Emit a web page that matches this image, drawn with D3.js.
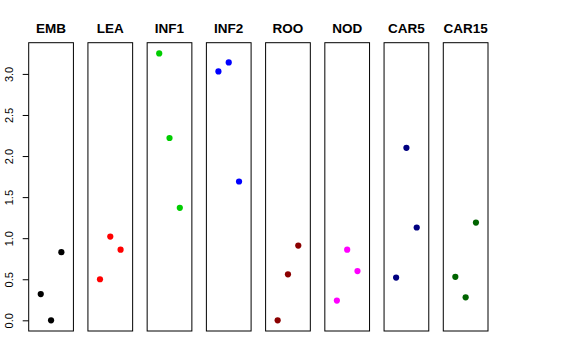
<!DOCTYPE html>
<html>
<head>
<meta charset="utf-8">
<script src="https://cdn.jsdelivr.net/npm/d3@7"></script>
<style>
  body { margin: 0; background: #fff; }
  svg { display: block; font-family: "Liberation Sans", Arial, sans-serif; }
</style>
</head>
<body>
<div id="chart"></div>
<script>
// tissues (one panel each) and their colours
const tissues = ["EMB", "LEA", "INF1", "INF2", "ROO", "NOD", "CAR5", "CAR15"];
const colors = ["#000000", "#FF0000", "#00CD00", "#0000FF", "#8B0000", "#FF00FF", "#000080", "#006400"];

// three replicates per tissue
const rep1 = [0.32, 0.50, 3.25, 3.03, 0.00, 0.24, 0.52, 0.53];
const rep2 = [0.00, 1.02, 2.22, 3.14, 0.56, 0.86, 2.10, 0.28];
const rep3 = [0.83, 0.86, 1.37, 1.69, 0.91, 0.60, 1.13, 1.19];

const yTicks = [0, 0.5, 1, 1.5, 2, 2.5, 3];

const width = 576, height = 360;
const margins = { top: 42.7, bottom: 29, left: 28.7, right: 88 };

const svg = d3.select("#chart").append("svg")
    .attr("width", width)
    .attr("height", height);

const series = [rep1, rep2, rep3];
const allVals = series.flat();
const yMin = d3.min(allVals), yMax = d3.max(allVals);
const pad = (yMax - yMin) * 0.04;

const y = d3.scaleLinear()
    .domain([yMin - pad, yMax + pad])
    .range([height - margins.bottom, margins.top]);

const panel = d3.scaleBand()
    .domain(tissues)
    .range([margins.left, width - margins.right])
    .paddingInner(0.245);

const x = d3.scaleLinear()
    .domain([2 - 2.17, 2 + 2.17])
    .range([0, panel.bandwidth()]);

//PANELS
tissues.forEach((t, i) => {
    const g = svg.append("g")
        .attr("transform", `translate(${panel(t)},0)`);

    g.append("rect")
        .attr("x", 0)
        .attr("y", y.range()[1])
        .attr("width", panel.bandwidth())
        .attr("height", y.range()[0] - y.range()[1])
        .attr("fill", "none")
        .attr("stroke", "#000")
        .attr("stroke-width", 1);

    g.append("text")
        .attr("x", panel.bandwidth() / 2)
        .attr("y", 33)
        .attr("text-anchor", "middle")
        .style("font-weight", "bold")
        .style("font-size", "13.5px")
        .text(t);

    g.selectAll("circle")
        .data(series.map((s, k) => ({ rep: k + 1, value: s[i] })))
        .enter()
        .append("circle")
        .attr("cx", d => x(d.rep))
        .attr("cy", d => y(d.value))
        .attr("r", 3.1)
        .attr("fill", colors[i]);
});

//Y AXIS
const yAxis = d3.axisLeft(y)
    .tickValues(yTicks)
    .tickFormat(d3.format(".1f"))
    .tickSize(6)
    .tickSizeOuter(0);

const axisG = svg.append("g")
    .attr("transform", `translate(${margins.left},0)`)
    .call(yAxis);

axisG.select(".domain").remove();
axisG.selectAll(".tick line").attr("stroke", "#000");
axisG.selectAll(".tick text")
    .attr("x", null)
    .attr("dy", null)
    .attr("transform", "translate(-15.5,0) rotate(-90)")
    .attr("text-anchor", "middle")
    .style("font-size", "11px")
    .style("font-family", "'Liberation Sans', Arial, sans-serif")
    .attr("fill", "#000");
</script>
</body>
</html>
